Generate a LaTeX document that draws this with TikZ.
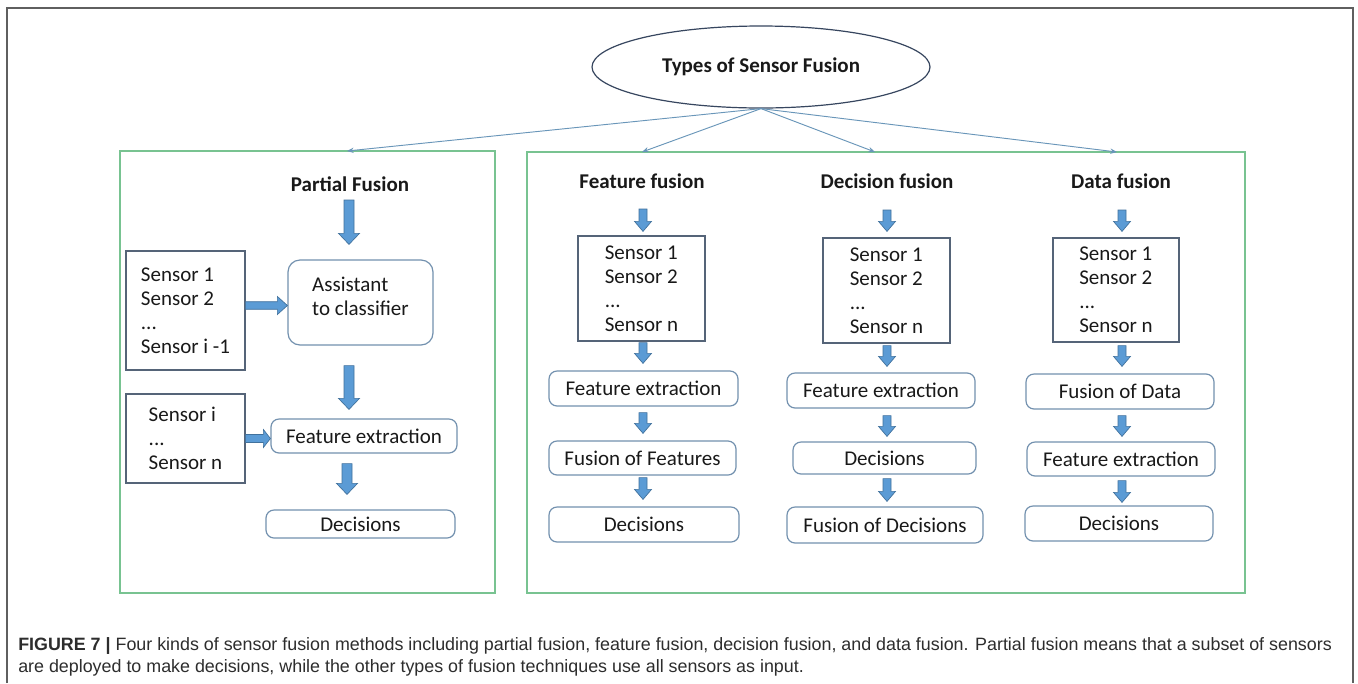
\documentclass[tikz,border=0pt]{standalone}
\usepackage{fontspec}
\setmainfont{Carlito}
\newfontfamily\capfont{Liberation Sans}
\usetikzlibrary{calc,shapes.geometric,arrows.meta}
\definecolor{gframe}{RGB}{120,195,145}
\definecolor{outerc}{RGB}{95,95,95}
\definecolor{afill}{RGB}{91,155,213}
\definecolor{aline}{RGB}{65,113,156}
\definecolor{sensc}{RGB}{85,100,120}
\definecolor{roundc}{RGB}{115,145,175}
\definecolor{connc}{RGB}{105,150,185}
\definecolor{ellc}{RGB}{55,70,95}
\definecolor{txtc}{RGB}{25,25,25}
\definecolor{capc}{RGB}{45,45,45}
\newcommand\dsize{\fontsize{15.75pt}{18pt}\selectfont}
\tikzset{
  ttl/.style={font=\bfseries\dsize, text=txtc, inner sep=0pt},
  sbox/.style={draw=sensc, line width=0.9pt, align=left, font=\dsize, text=txtc, inner sep=0pt},
  rbox/.style={draw=roundc, line width=0.9pt, rounded corners=6pt, align=left, font=\dsize, text=txtc, inner sep=0pt},
  gbox/.style={draw=gframe, line width=1.2pt, inner sep=0pt},
  barrow/.style={fill=afill, draw=aline, line width=0.5pt, line join=miter},
  conn/.style={draw=connc, line width=0.7pt, -{Stealth[length=5pt,width=4pt]}},
  captxt/.style={anchor=base west, inner sep=0pt, text=capc, font=\capfont\fontsize{13.4pt}{16pt}\selectfont},
}
% vertical block arrow: start, end, shaft half, head half, head length (px)
\newcommand\varr[5]{\path[barrow] let \p1=#1, \p2=#2 in
  (\x1-#3*0.75pt,\y1) -- (\x1+#3*0.75pt,\y1) -- (\x1+#3*0.75pt,\y2+#5*0.75pt) -- (\x1+#4*0.75pt,\y2+#5*0.75pt)
  -- (\x1,\y2) -- (\x1-#4*0.75pt,\y2+#5*0.75pt) -- (\x1-#3*0.75pt,\y2+#5*0.75pt) -- cycle;}
% horizontal block arrow
\newcommand\harr[5]{\path[barrow] let \p1=#1, \p2=#2 in
  (\x1,\y1+#3*0.75pt) -- (\x2-#5*0.75pt,\y1+#3*0.75pt) -- (\x2-#5*0.75pt,\y1+#4*0.75pt) -- (\x2,\y1)
  -- (\x2-#5*0.75pt,\y1-#4*0.75pt) -- (\x2-#5*0.75pt,\y1-#3*0.75pt) -- (\x1,\y1-#3*0.75pt) -- cycle;}
\begin{document}
\begin{tikzpicture}[x=0.75pt,y=-0.75pt]
\useasboundingbox[fill=white] (0,0) rectangle (1358,683);
% outer frame
\draw[outerc, line width=1.2pt] (7,683) -- (7,8) -- (1353,8) -- (1353,683);

% root
\node[ellipse, draw=ellc, line width=0.9pt, minimum width=338*0.75pt, minimum height=82*0.75pt, inner sep=0pt,
      font=\bfseries\dsize, text=txtc] (root) at (761,67) {Types of Sensor Fusion};

% group frames
\node[gbox, minimum width=375*0.75pt, minimum height=442*0.75pt] (lg) at (307.5,372) {};
\node[gbox, minimum width=718*0.75pt, minimum height=441*0.75pt] (rg) at (886,372.5) {};

\coordinate (t1) at (347,151);
\coordinate (t2) at (642,152);
\coordinate (t3) at (875,152);
\coordinate (t4) at (1117,152);
\draw[conn] (root.south) -- (t1);
\draw[conn] (root.south) -- (t2);
\draw[conn] (root.south) -- (t3);
\draw[conn] (root.south) -- (t4);

% ---------- Partial fusion ----------
\node[ttl] (pf) at (350,184) {Partial Fusion};
\node[sbox, minimum width=119*0.75pt, minimum height=119*0.75pt] (s1) at (185.5,310.5)
  {Sensor 1\\Sensor 2\\...\\Sensor i -1};
\node[rbox, rounded corners=9pt, minimum width=145*0.75pt, minimum height=85*0.75pt] (asst) at (360.5,302.5)
  {Assistant\\to classifier\\[-8pt]\mbox{}};
\node[sbox, minimum width=119*0.75pt, minimum height=89*0.75pt] (s2) at (185.5,438.5)
  {Sensor i\\...\\Sensor n};
\node[rbox, minimum width=186*0.75pt, minimum height=34*0.75pt] (fe1) at (364,436) {Feature extraction};
\node[rbox, minimum width=189*0.75pt, minimum height=28*0.75pt] (dec1) at (360.5,524) {Decisions};

\varr{($(pf)+(-1,16)$)}{($(asst.north)+(0,-15)$)}{5}{10.5}{11}
\varr{($(asst.south)+(-11.5,20)$)}{($(fe1.north)+(0,-9)$)}{5}{10.5}{11}
\varr{($(fe1.south)+(-17,10)$)}{($(dec1.north)+(0,-15)$)}{5}{10.5}{11}
\harr{($(s1.east)+(0,-5)$)}{(asst.west)}{3.8}{9}{10}
\harr{($(s2.east)+(0,0)$)}{(fe1.west)}{4}{9}{7}

% ---------- Feature fusion ----------
\node[ttl] (ff) at (642,181) {Feature fusion};
\node[sbox, minimum width=127*0.75pt, minimum height=105*0.75pt] (sb2) at (641.5,288.5)
  {Sensor 1\\Sensor 2\\...\\Sensor n};
\node[rbox, minimum width=189*0.75pt, minimum height=35*0.75pt] (fe2) at (643.5,388.5) {Feature extraction};
\node[rbox, minimum width=187*0.75pt, minimum height=34*0.75pt] (fof) at (642.5,458) {Fusion of Features};
\node[rbox, minimum width=190*0.75pt, minimum height=35*0.75pt] (dec2) at (644,524.5) {Decisions};
\varr{($(ff)+(1,28)$)}{($(sb2.north)+(0,-4)$)}{4}{8.5}{10}
\varr{($(sb2.south)+(1.5,1)$)}{($(fe2.north)+(0,-7)$)}{4}{8.5}{10}
\varr{($(fe2.south)+(-0.5,6)$)}{($(fof.north)+(0,-7)$)}{4}{8.5}{10}
\varr{($(fof.south)+(0.5,2)$)}{($(dec2.north)+(0,-7)$)}{4}{8.5}{10}

% ---------- Decision fusion ----------
\node[ttl] (df) at (887,181) {Decision fusion};
\node[sbox, minimum width=127*0.75pt, minimum height=105*0.75pt] (sb3) at (886.5,290.5)
  {Sensor 1\\Sensor 2\\...\\Sensor n};
\node[rbox, minimum width=188*0.75pt, minimum height=35*0.75pt] (fe3) at (881,390.5) {Feature extraction};
\node[rbox, minimum width=183*0.75pt, minimum height=32*0.75pt] (dec3) at (884.5,458) {Decisions};
\node[rbox, minimum width=196*0.75pt, minimum height=36*0.75pt] (fod) at (885,525) {Fusion of Decisions};
\varr{($(df)+(0,29)$)}{($(sb3.north)+(0,-6)$)}{4}{8.5}{10}
\varr{($(sb3.south)+(0.5,2)$)}{($(fe3.north)+(0,-6)$)}{4}{8.5}{10}
\varr{($(fe3.south)+(6,7)$)}{($(dec3.north)+(0,-5)$)}{4}{8.5}{10}
\varr{($(dec3.south)+(2.5,4)$)}{($(fod.north)+(0,-5)$)}{4}{8.5}{10}

% ---------- Data fusion ----------
\node[ttl] (daf) at (1121,181) {Data fusion};
\node[sbox, minimum width=126*0.75pt, minimum height=104*0.75pt] (sb4) at (1116,290)
  {Sensor 1\\Sensor 2\\...\\Sensor n};
\node[rbox, minimum width=188*0.75pt, minimum height=35*0.75pt] (fdat) at (1120,391.5) {Fusion of Data};
\node[rbox, minimum width=188*0.75pt, minimum height=34*0.75pt] (fe4) at (1121,459) {Feature extraction};
\node[rbox, minimum width=188*0.75pt, minimum height=35*0.75pt] (dec4) at (1119,523.5) {Decisions};
\varr{($(daf)+(1,29)$)}{($(sb4.north)+(0,-6)$)}{4}{8.5}{10}
\varr{($(sb4.south)+(6,3)$)}{($(fdat.north)+(0,-7)$)}{4}{8.5}{10}
\varr{($(fdat.south)+(2,6)$)}{($(fe4.north)+(0,-5)$)}{4}{8.5}{10}
\varr{($(fe4.south)+(1,4)$)}{($(dec4.north)+(0,-3)$)}{4}{8.5}{10}

% ---------- caption ----------
\node[captxt] (cap1) at (18,650)
  {\textbf{FIGURE 7 |} Four kinds of sensor fusion methods including partial fusion, feature fusion, decision fusion, and data fusion. Partial fusion means that a subset of sensors};
\node[captxt] (cap2) at (18,672)
  {are deployed to make decisions, while the other types of fusion techniques use all sensors as input.};
\end{tikzpicture}
\end{document}
